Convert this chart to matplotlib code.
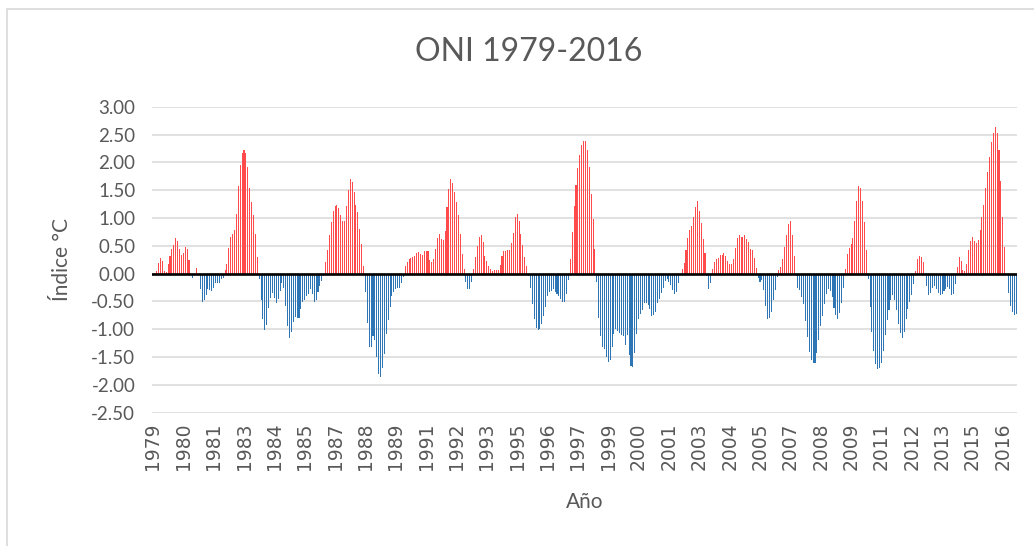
import matplotlib
matplotlib.use("Agg")
import matplotlib.pyplot as plt
from matplotlib.patches import Rectangle
import numpy as np

plt.rcParams['font.family'] = ['Lato', 'DejaVu Sans']

# monthly ONI values (°C), Jan 1979 .. Dec 2016, one row per year
oni = [
    0.00, 0.02, 0.05, 0.19, 0.28, 0.22, 0.05, 0.03, 0.17, 0.32, 0.44, 0.51,  # 1979
    0.64, 0.58, 0.45, 0.34, 0.37, 0.47, 0.45, 0.24, 0.00, -0.08, 0.00, 0.10,  # 1980
    0.00, -0.28, -0.51, -0.47, -0.38, -0.28, -0.29, -0.31, -0.25, -0.16, -0.16, -0.17,  # 1981
    -0.10, -0.07, 0.06, 0.18, 0.46, 0.65, 0.71, 0.78, 1.07, 1.57, 1.96, 2.17,  # 1982
    2.22, 2.17, 1.91, 1.53, 1.28, 1.05, 0.71, 0.30, -0.10, -0.48, -0.82, -1.01,  # 1983
    -0.92, -0.62, -0.44, -0.35, -0.44, -0.53, -0.46, -0.31, -0.17, -0.26, -0.58, -0.94,  # 1984
    -1.16, -1.05, -0.87, -0.78, -0.79, -0.80, -0.64, -0.51, -0.48, -0.41, -0.37, -0.28,  # 1985
    -0.36, -0.51, -0.48, -0.33, -0.22, -0.13, -0.04, 0.21, 0.43, 0.70, 0.93, 1.13,  # 1986
    1.21, 1.23, 1.18, 1.05, 0.94, 0.95, 1.21, 1.50, 1.70, 1.64, 1.47, 1.24,  # 1987
    1.10, 0.80, 0.53, 0.13, -0.33, -0.89, -1.32, -1.32, -1.12, -1.20, -1.50, -1.81,  # 1988
    -1.86, -1.69, -1.44, -1.09, -0.84, -0.60, -0.40, -0.33, -0.27, -0.25, -0.25, -0.17,  # 1989
    -0.06, 0.13, 0.20, 0.27, 0.28, 0.29, 0.32, 0.37, 0.38, 0.36, 0.34, 0.40,  # 1990
    0.40, 0.41, 0.25, 0.21, 0.26, 0.44, 0.64, 0.72, 0.63, 0.61, 0.77, 1.19,  # 1991
    1.52, 1.70, 1.62, 1.47, 1.28, 1.05, 0.72, 0.36, 0.08, -0.15, -0.28, -0.27,  # 1992
    -0.15, 0.08, 0.29, 0.50, 0.66, 0.69, 0.56, 0.31, 0.23, 0.14, 0.09, 0.04,  # 1993
    0.06, 0.06, 0.07, 0.16, 0.31, 0.41, 0.41, 0.43, 0.42, 0.55, 0.73, 1.01,  # 1994
    1.08, 0.95, 0.71, 0.52, 0.29, 0.14, -0.04, -0.26, -0.55, -0.82, -0.98, -1.01,  # 1995
    -0.99, -0.91, -0.76, -0.60, -0.40, -0.33, -0.31, -0.28, -0.33, -0.37, -0.40, -0.45,  # 1996
    -0.51, -0.51, -0.37, -0.11, 0.27, 0.75, 1.21, 1.59, 1.89, 2.13, 2.32, 2.39,  # 1997
    2.39, 2.23, 1.92, 1.43, 0.98, 0.44, -0.15, -0.80, -1.12, -1.32, -1.35, -1.50,  # 1998
    -1.59, -1.55, -1.32, -1.09, -1.00, -1.03, -1.07, -1.10, -1.13, -1.28, -1.11, -1.46,  # 1999
    -1.66, -1.68, -1.43, -1.09, -0.81, -0.73, -0.65, -0.52, -0.53, -0.56, -0.63, -0.76,  # 2000
    -0.74, -0.69, -0.53, -0.46, -0.34, -0.26, -0.13, -0.10, -0.15, -0.21, -0.29, -0.37,  # 2001
    -0.33, -0.17, 0.00, 0.08, 0.19, 0.42, 0.64, 0.78, 0.85, 1.01, 1.19, 1.30,  # 2002
    1.13, 0.91, 0.62, 0.37, -0.04, -0.27, -0.16, 0.08, 0.21, 0.26, 0.28, 0.34,  # 2003
    0.34, 0.37, 0.31, 0.23, 0.17, 0.17, 0.27, 0.46, 0.64, 0.69, 0.65, 0.65,  # 2004
    0.69, 0.63, 0.57, 0.44, 0.42, 0.28, 0.10, -0.08, -0.15, -0.11, -0.29, -0.58,  # 2005
    -0.81, -0.80, -0.69, -0.47, -0.29, -0.06, 0.06, 0.11, 0.26, 0.47, 0.70, 0.89,  # 2006
    0.94, 0.70, 0.31, -0.04, -0.25, -0.29, -0.42, -0.55, -0.85, -1.14, -1.41, -1.56,  # 2007
    -1.61, -1.61, -1.43, -1.19, -0.94, -0.76, -0.55, -0.37, -0.27, -0.31, -0.42, -0.62,  # 2008
    -0.74, -0.82, -0.71, -0.53, -0.26, 0.08, 0.35, 0.46, 0.53, 0.64, 0.94, 1.30,  # 2009
    1.57, 1.54, 1.30, 0.93, 0.43, -0.10, -0.60, -1.05, -1.39, -1.62, -1.71, -1.69,  # 2010
    -1.61, -1.39, -1.10, -0.83, -0.65, -0.47, -0.39, -0.47, -0.65, -0.91, -1.07, -1.16,  # 2011
    -1.05, -0.82, -0.64, -0.51, -0.38, -0.19, 0.05, 0.26, 0.32, 0.30, 0.20, 0.00,  # 2012
    -0.22, -0.38, -0.35, -0.26, -0.22, -0.28, -0.35, -0.38, -0.37, -0.31, -0.27, -0.24,  # 2013
    -0.28, -0.38, -0.37, -0.19, 0.11, 0.29, 0.22, 0.06, 0.05, 0.17, 0.43, 0.58,  # 2014
    0.65, 0.59, 0.55, 0.61, 0.78, 1.01, 1.24, 1.53, 1.82, 2.10, 2.37, 2.53,  # 2015
    2.63, 2.52, 2.22, 1.67, 1.02, 0.48, 0.00, -0.35, -0.58, -0.69, -0.74, -0.73,  # 2016
]

# category labels shown every 16 months (Excel label interval)
label_step = 16
tick_labels = ["1979", "1980", "1981", "1983", "1984", "1985", "1987", "1988",
               "1989", "1991", "1992", "1993", "1995", "1996", "1997", "1999",
               "2000", "2001", "2003", "2004", "2005", "2007", "2008", "2009",
               "2011", "2012", "2013", "2015", "2016"]
yticks = [3.0, 2.5, 2.0, 1.5, 1.0, 0.5, 0.0, -0.5, -1.0, -1.5, -2.0, -2.5]

text_color = '#595959'
pos_color = '#FF4B4B'
neg_color = '#2E75B6'

fig = plt.figure(figsize=(10.34, 5.46), dpi=100)
ax = fig.add_axes([0.1470, 0.2441, 0.8366, 0.5605])

x = np.arange(len(oni))
colors = [pos_color if v >= 0 else neg_color for v in oni]
ax.bar(x, oni, width=0.55, color=colors, linewidth=0, zorder=2)
ax.axhline(0, color='black', lw=1.9, zorder=3)

ax.set_xlim(-0.5, len(oni) - 0.5)
ax.set_ylim(-2.5, 3.0)
ax.set_yticks(yticks)
ax.set_yticklabels(["%.2f" % v for v in yticks])
ax.set_xticks(x[::label_step])
ax.set_xticklabels(tick_labels, rotation=90, fontfamily=['DejaVu Sans'])
ax.tick_params(length=0, labelsize=13.5, colors=text_color)
ax.tick_params(axis='y', pad=12)
ax.tick_params(axis='x', labelsize=13.5, pad=7)

ax.yaxis.grid(True, color='#D9D9D9', lw=1.1)
ax.set_axisbelow(True)
for s in ax.spines.values():
    s.set_visible(False)

ax.set_ylabel("Índice °C", fontsize=15, color=text_color, labelpad=14)
ax.set_xlabel("Año", fontsize=15, color=text_color, labelpad=16)
fig.text(0.511, 0.905, "ONI 1979-2016", ha='center', va='center',
         fontsize=23, color=text_color)

# chart area border
fig.patches.append(Rectangle((7 / 1034, -0.05), 1.1, (546 - 9) / 546 + 0.05,
                             transform=fig.transFigure, fill=False,
                             edgecolor='#D9D9D9', lw=1.2))

fig.savefig("out.png", dpi=100)
